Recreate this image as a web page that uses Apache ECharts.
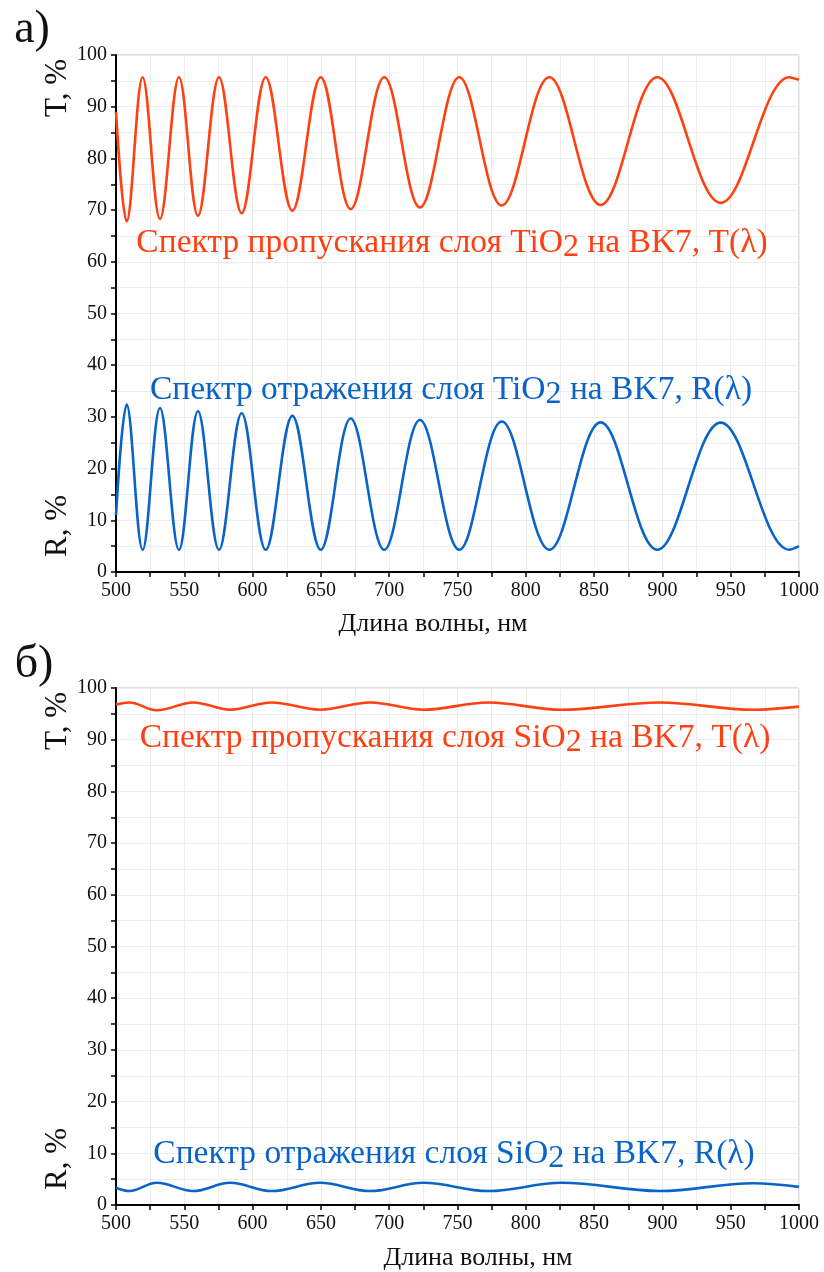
<!DOCTYPE html>
<html>
<head>
<meta charset="utf-8">
<script src="https://cdn.jsdelivr.net/npm/echarts@6/dist/echarts.min.js"></script>
<style>
  html, body { margin: 0; padding: 0; background: #fff; }
  #chart { width: 824px; height: 1272px; }
</style>
</head>
<body>
<div id="chart"></div>
<script>
// values: [wavelength nm, percent]
var tTiO2 = [
  [500, 89.0], [507.8, 67.8], [519.5, 95.7], [532.2, 68.3], [546.1, 95.7],
  [560.0, 68.9], [575.4, 95.7], [592.0, 69.4], [609.6, 95.7], [629.1, 69.9],
  [649.9, 95.7], [671.8, 70.2], [696.4, 95.7], [722.5, 70.5], [751.3, 95.7],
  [782.4, 70.9], [817.2, 95.7], [854.8, 71.0], [896.3, 95.7], [942.7, 71.4],
  [992.9, 95.7], [1000, 95.2]
];
var rTiO2 = [
  [500, 11.0], [507.8, 32.4], [519.5, 4.3], [532.2, 31.7], [546.1, 4.3],
  [560.0, 31.1], [575.4, 4.3], [592.0, 30.7], [609.6, 4.3], [629.1, 30.2],
  [649.9, 4.3], [671.8, 29.7], [696.4, 4.3], [722.5, 29.4], [751.3, 4.3],
  [782.4, 29.1], [817.2, 4.3], [854.8, 28.95], [896.3, 4.3], [942.7, 28.9],
  [992.9, 4.3], [1000, 5.0]
];
var tSiO2 = [
  [500, 96.8], [509.8, 97.2], [529.8, 95.7], [556.6, 97.2], [583.5, 95.8],
  [614, 97.2], [649.3, 95.8], [686, 97.2], [725, 95.8], [772.6, 97.2],
  [826.3, 95.8], [898, 97.2], [966.5, 95.8], [1000, 96.4]
];
var rSiO2 = [
  [500, 3.35], [509.8, 2.7], [529.8, 4.3], [556.6, 2.7], [583.5, 4.3],
  [614, 2.7], [649.3, 4.3], [686, 2.7], [725, 4.3], [772.6, 2.7],
  [826.3, 4.3], [898, 2.7], [966.5, 4.2], [1000, 3.5]
];
var panelLabels = ['а)', 'б)'];
var xName = 'Длина волны, нм';
var tLabels = [['Спектр пропускания слоя TiO', ' на BK7, T(λ)'], ['Спектр пропускания слоя SiO', ' на BK7, T(λ)']];
var rLabels = [['Спектр отражения слоя TiO', ' на BK7, R(λ)'], ['Спектр отражения слоя SiO', ' на BK7, R(λ)']];

var red = '#ff4012';
var blue = '#0a64c8';
var font = 'Liberation Serif';
var gridCol = '#ececec';
var tops = [55, 688];

var myChart = echarts.init(document.getElementById('chart'));

function xAxis(i) {
  return {
    type: 'value', gridIndex: i, min: 500, max: 1000, interval: 50,
    axisLine: { onZero: false, lineStyle: { color: '#000', width: 2 } },
    axisTick: { length: 5, lineStyle: { color: '#000', width: 1.5 } },
    minorTick: { show: true, splitNumber: 2, length: 5, lineStyle: { color: '#000', width: 1.5 } },
    axisLabel: { fontFamily: font, fontSize: 20, color: '#111', margin: 9, formatter: function (v) { return String(v); } },
    splitLine: { show: true, lineStyle: { color: gridCol, width: 1 } },
    minorSplitLine: { show: true, lineStyle: { color: gridCol, width: 1 } }
  };
}
function yAxis(i) {
  return {
    type: 'value', gridIndex: i, min: 0, max: 100, interval: 10,
    axisLine: { show: true, lineStyle: { color: '#000', width: 2 } },
    axisTick: { show: true, length: 5, lineStyle: { color: '#000', width: 1.5 } },
    minorTick: { show: true, splitNumber: 2, length: 5, lineStyle: { color: '#000', width: 1.5 } },
    axisLabel: { fontFamily: font, fontSize: 20, color: '#111', margin: 9 },
    splitLine: { show: true, lineStyle: { color: gridCol, width: 1 } },
    minorSplitLine: { show: true, lineStyle: { color: gridCol, width: 1 } }
  };
}
function line(data, i, color) {
  return {
    type: 'line', xAxisIndex: i, yAxisIndex: i, data: data,
    smooth: 0.37, showSymbol: false, animation: false,
    lineStyle: { color: color, width: 2.6 }, itemStyle: { color: color }
  };
}
function note(parts, x, y, color) {
  return {
    type: 'text', x: x, y: y, z: 50,
    style: {
      text: '{m|' + parts[0] + '}{s|2}{m|' + parts[1] + '}',
      align: 'center', verticalAlign: 'middle',
      rich: {
        m: { fontFamily: font, fontSize: 33.5, fill: color },
        s: { fontFamily: font, fontSize: 32, fill: color, padding: [10, 0, 0, 0] }
      }
    }
  };
}
function text(txt, x, y, size, rot) {
  return {
    type: 'text', x: x, y: y, z: 50, rotation: rot || 0,
    style: { text: txt, fontFamily: font, fontSize: size, fill: '#111', align: 'center', verticalAlign: 'middle' }
  };
}

var graphics = [
  text(panelLabels[0], 32, 30, 46),
  text(panelLabels[1], 34, 665, 46),
  text('T, %', 58, 88, 31, Math.PI / 2),
  text('R, %', 58, 526, 31, Math.PI / 2),
  text('T, %', 58, 721, 31, Math.PI / 2),
  text('R, %', 58, 1159, 31, Math.PI / 2),
  text(xName, 433, 624, 26),
  text(xName, 478, 1258, 26),
  note(tLabels[0], 452, 243, red),
  note(rLabels[0], 451, 390, blue),
  note(tLabels[1], 455, 738, red),
  note(rLabels[1], 454, 1154, blue)
];

var option = {
  backgroundColor: '#fff',
  animation: false,
  grid: [
    { left: 116, top: tops[0], width: 683, height: 517, show: true, borderColor: '#bdbdbd', borderWidth: 1 },
    { left: 116, top: tops[1], width: 683, height: 517, show: true, borderColor: '#bdbdbd', borderWidth: 1 }
  ],
  xAxis: [xAxis(0), xAxis(1)],
  yAxis: [yAxis(0), yAxis(1)],
  series: [
    line(tTiO2, 0, red), line(rTiO2, 0, blue),
    line(tSiO2, 1, red), line(rSiO2, 1, blue)
  ],
  graphic: graphics
};
option && myChart.setOption(option);
</script>
</body>
</html>
